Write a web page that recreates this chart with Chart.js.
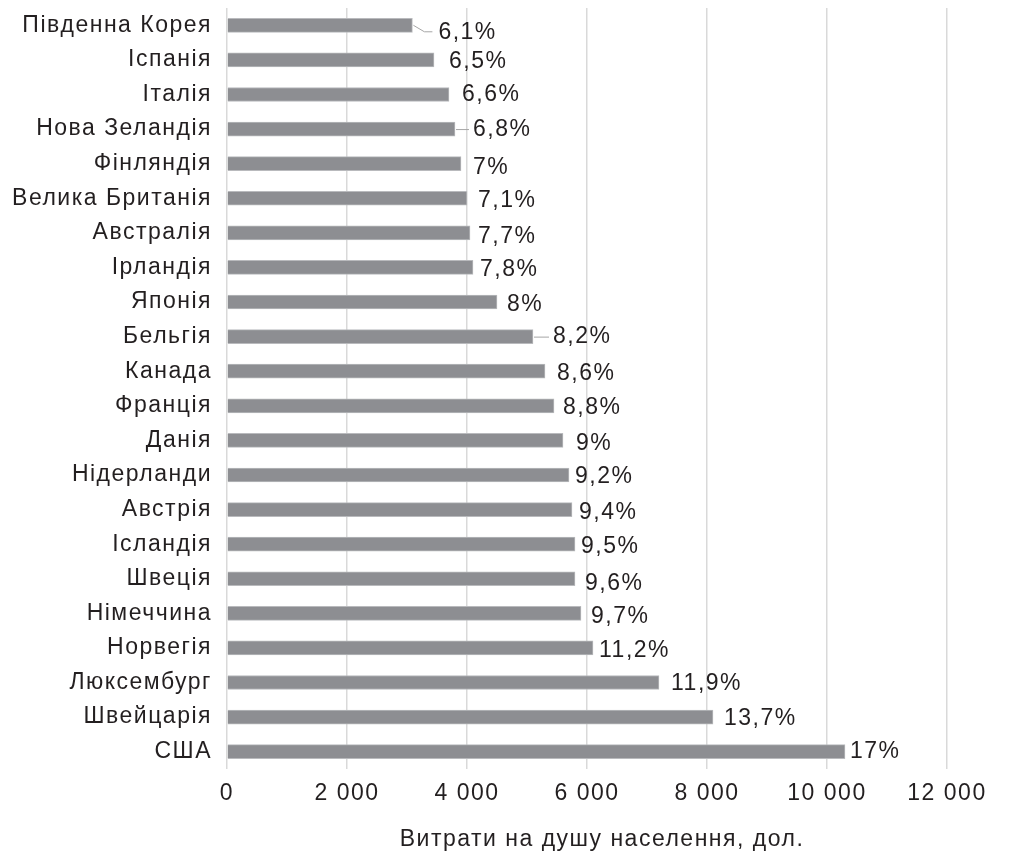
<!DOCTYPE html>
<html>
<head>
<meta charset="utf-8">
<script src="https://cdn.jsdelivr.net/npm/chart.js@4/dist/chart.umd.min.js"></script>
<style>
  html, body { margin: 0; padding: 0; background: #ffffff; }
  #wrap { width: 1009px; height: 851px; position: relative; }
</style>
</head>
<body>
<div id="wrap"><canvas id="chart" width="1009" height="851"></canvas></div>
<script>
// Країни (зверху вниз)
const countries = [
  'Південна Корея', 'Іспанія', 'Італія', 'Нова Зеландія', 'Фінляндія',
  'Велика Британія', 'Австралія', 'Ірландія', 'Японія', 'Бельгія',
  'Канада', 'Франція', 'Данія', 'Нідерланди', 'Австрія', 'Ісландія',
  'Швеція', 'Німеччина', 'Норвегія', 'Люксембург', 'Швейцарія', 'США'
];

// Витрати на душу населення, дол.
const spending = [
  3090, 3450, 3700, 3800, 3900,
  4000, 4050, 4100, 4500, 5100,
  5300, 5450, 5600, 5700, 5750, 5800,
  5800, 5900, 6100, 7200, 8100, 10300
];

// Частка витрат, % (підписи біля смуг)
const shareLabels = [
  '6,1%', '6,5%', '6,6%', '6,8%', '7%',
  '7,1%', '7,7%', '7,8%', '8%', '8,2%',
  '8,6%', '8,8%', '9%', '9,2%', '9,4%', '9,5%',
  '9,6%', '9,7%', '11,2%', '11,9%', '13,7%', '17%'
];

// Вісь X
const xTicks = [0, 2000, 4000, 6000, 8000, 10000, 12000];
const xTitle = 'Витрати на душу населення, дол.';

// Зсуви підписів від кінця смуги (оформлення)
const labelGapX = [26, 15, 13, 18, 12, 11, 8, 7, 10, 20, 12, 9, 13, 6, 7, 6, 10, 10, 6, 12, 11, 5];
const labelGapY = [7, 2, 0, 1, 4, 2, 4, 2, 3, 0, 2, 2, 3, 2, 3, 2, 5, 3, 3, 1, 2, 0];
// Смуги з виносними лініями
const leaderRows = { 0: 'bent', 3: 'flat', 9: 'flat' };

const FONT = '"Liberation Sans", Arial, Helvetica, sans-serif';
const TEXT = '#231f20';

const fmtThousands = v => {
  const s = String(v);
  return s.length > 3 ? s.slice(0, s.length - 3) + ' ' + s.slice(-3) : s;
};

// Трохи розріджений набір тексту
const spacing = {
  id: 'spacing',
  beforeDraw(chart) {
    chart.ctx.letterSpacing = '1.5px';
  }
};

// Назва осі X під поділками
const axisTitle = {
  id: 'axisTitle',
  afterDraw(chart) {
    const ctx = chart.ctx;
    const xs = chart.scales.x;
    ctx.save();
    ctx.letterSpacing = '1.5px';
    ctx.font = '23px ' + FONT;
    ctx.fillStyle = TEXT;
    ctx.textAlign = 'center';
    ctx.textBaseline = 'middle';
    ctx.fillText(xTitle, (xs.left + xs.right) / 2 + 15, xs.bottom - 11);
    ctx.restore();
  }
};

const valueLabels = {
  id: 'valueLabels',
  afterDatasetsDraw(chart) {
    const ctx = chart.ctx;
    const meta = chart.getDatasetMeta(0);
    ctx.save();
    ctx.letterSpacing = '1.5px';
    ctx.font = '23px ' + FONT;
    ctx.fillStyle = TEXT;
    ctx.textAlign = 'left';
    ctx.textBaseline = 'middle';
    meta.data.forEach((bar, i) => {
      const x = bar.x;
      const y = bar.y;
      const tx = x + labelGapX[i];
      const ty = y + labelGapY[i];
      const kind = leaderRows[i];
      if (kind) {
        ctx.strokeStyle = '#a6a6a6';
        ctx.lineWidth = 1;
        ctx.beginPath();
        if (kind === 'bent') {
          ctx.moveTo(x + 1, y);
          ctx.lineTo(x + 12, y + 6.5);
          ctx.lineTo(tx - 6, y + 6.5);
        } else {
          ctx.moveTo(x + 1, y + 0.5);
          ctx.lineTo(tx - 4, y + 0.5);
        }
        ctx.stroke();
      }
      ctx.fillText(shareLabels[i], tx, ty);
    });
    ctx.restore();
  }
};

new Chart(document.getElementById('chart'), {
  type: 'bar',
  data: {
    labels: countries,
    datasets: [{
      data: spending,
      backgroundColor: '#8d8e92',
      borderColor: '#b9babd',
      borderWidth: 1,
      borderSkipped: 'start',
      barThickness: 14
    }]
  },
  options: {
    indexAxis: 'y',
    responsive: false,
    animation: false,
    devicePixelRatio: 1,
    layout: { padding: { top: 8, right: 62, left: 0, bottom: 0 } },
    plugins: {
      legend: { display: false },
      tooltip: { enabled: false }
    },
    scales: {
      x: {
        min: 0,
        max: 12000,
        afterBuildTicks(scale) {
          scale.ticks = xTicks.map(v => ({ value: v }));
        },
        afterFit(scale) { scale.height = 82; },
        grid: { color: '#d9d9d9', lineWidth: 1.5, drawTicks: false },
        border: { display: false },
        ticks: {
          padding: 11,
          color: TEXT,
          font: { family: FONT, size: 23 },
          callback: v => fmtThousands(v)
        },
        title: { display: false }
      },
      y: {
        afterFit(scale) {
          scale.width = 227;
          scale.paddingTop = 0;
          scale.paddingBottom = 0;
        },
        grid: { display: false, drawTicks: false },
        border: { display: false },
        ticks: {
          padding: 15,
          color: TEXT,
          autoSkip: false,
          font: { family: FONT, size: 23 }
        }
      }
    }
  },
  plugins: [spacing, valueLabels, axisTitle]
});
</script>
</body>
</html>
